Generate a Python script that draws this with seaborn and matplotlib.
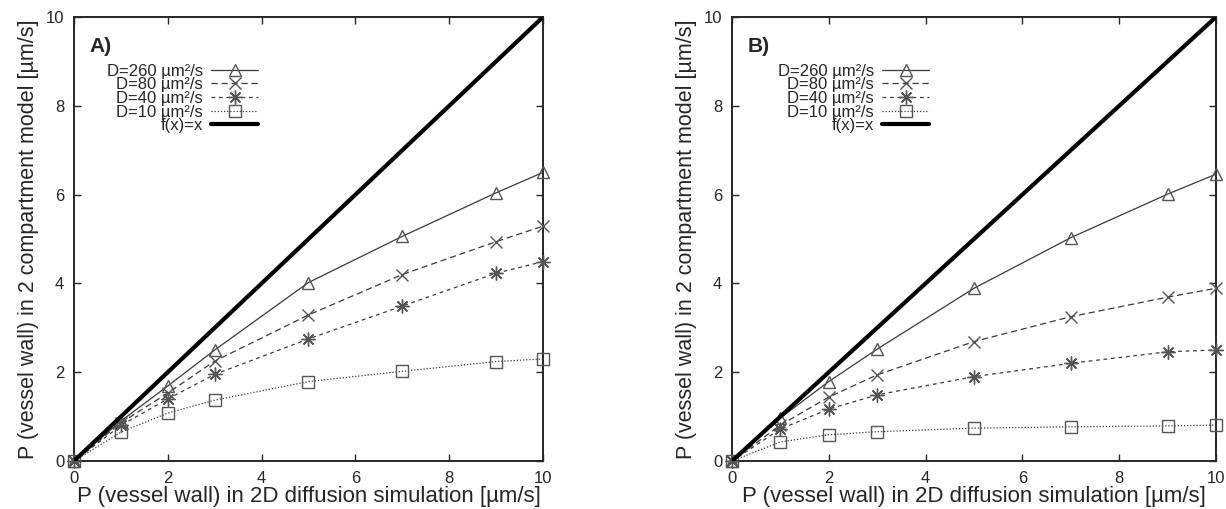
import numpy as np
import pandas as pd
import matplotlib
matplotlib.use("Agg")
import matplotlib.pyplot as plt
import seaborn as sns

# ---- data ----
x_vals = [0, 1, 2, 3, 5, 7, 9, 10]
labels = ["D=260 µm²/s", "D=80 µm²/s", "D=40 µm²/s", "D=10 µm²/s"]

a_d260 = [0, 0.90, 1.69, 2.50, 4.02, 5.06, 6.04, 6.50]
a_d80 = [0, 0.86, 1.53, 2.25, 3.29, 4.20, 4.94, 5.29]
a_d40 = [0, 0.80, 1.40, 1.95, 2.75, 3.49, 4.23, 4.49]
a_d10 = [0, 0.65, 1.08, 1.37, 1.79, 2.02, 2.24, 2.30]

b_d260 = [0, 0.97, 1.79, 2.52, 3.89, 5.03, 6.01, 6.46]
b_d80 = [0, 0.81, 1.44, 1.94, 2.69, 3.25, 3.69, 3.89]
b_d40 = [0, 0.72, 1.17, 1.49, 1.90, 2.20, 2.46, 2.50]
b_d10 = [0, 0.43, 0.59, 0.66, 0.74, 0.77, 0.79, 0.81]

panel_names = ["A)", "B)"]
x_ticks = [0, 2, 4, 6, 8, 10]
y_ticks = [0, 2, 4, 6, 8, 10]
xlabel = "P (vessel wall) in 2D diffusion simulation [µm/s]"
ylabel = "P (vessel wall) in 2 compartment model [µm/s]"

sns.set_style("ticks")
plt.rcParams["font.family"] = ["Liberation Sans", "DejaVu Sans"]

styles = [
    dict(marker="^", linestyle="-", markersize=9),
    dict(marker="x", linestyle=(0, (5, 3)), markersize=9),
    dict(marker=(8, 2, 0), linestyle=(0, (3, 3)), markersize=10),
    dict(marker="s", linestyle=(0, (1, 1.5)), markersize=9),
]

fig = plt.figure(figsize=(12.26, 5.09), dpi=100)
axA = fig.add_axes([74 / 1226, 48 / 509, 469 / 1226, 444 / 509])
axB = fig.add_axes([732 / 1226, 48 / 509, 484 / 1226, 444 / 509])

panels = [
    (axA, [a_d260, a_d80, a_d40, a_d10], (258 - 74) / 469),
    (axB, [b_d260, b_d80, b_d40, b_d10], (929 - 732) / 484),
]

for (ax, series, leg_x), pname in zip(panels, panel_names):
    for lab, ys, st in zip(labels, series, styles):
        df = pd.DataFrame({"x": x_vals, "y": ys})
        sns.lineplot(data=df, x="x", y="y", ax=ax, color="#3a3a3a", lw=0.9,
                     marker=st["marker"], linestyle=st["linestyle"],
                     markersize=st["markersize"], markerfacecolor="none",
                     markeredgecolor="#555555", markeredgewidth=1.0,
                     label=lab, estimator=None, sort=False, clip_on=False)
    dfl = pd.DataFrame({"x": [0, 10], "y": [0, 10]})
    sns.lineplot(data=dfl, x="x", y="y", ax=ax, color="black", lw=3,
                 label="f(x)=x", estimator=None)
    ax.set_xlim(0, 10)
    ax.set_ylim(0, 10)
    ax.set_xticks(x_ticks)
    ax.set_yticks(y_ticks)
    ax.tick_params(direction="in", length=5, width=1, labelsize=12,
                   top=True, right=True, pad=7)
    for sp in ax.spines.values():
        sp.set_visible(True)
        sp.set_linewidth(1.4)
        sp.set_zorder(1)
    ax.set_xlabel(xlabel, fontsize=16, labelpad=0)
    ax.set_ylabel(ylabel, fontsize=15.5, labelpad=5)
    ax.text(0.033, 0.955, pname, transform=ax.transAxes, fontsize=15,
            fontweight="bold", va="top", ha="left")
    ax.legend(loc="upper right", bbox_to_anchor=(leg_x, 0.895), frameon=False,
              markerfirst=False, fontsize=12, labelspacing=-0.08,
              handlelength=2.8, handletextpad=0.5, borderpad=0, borderaxespad=0)

fig.savefig("out.png", dpi=100)
